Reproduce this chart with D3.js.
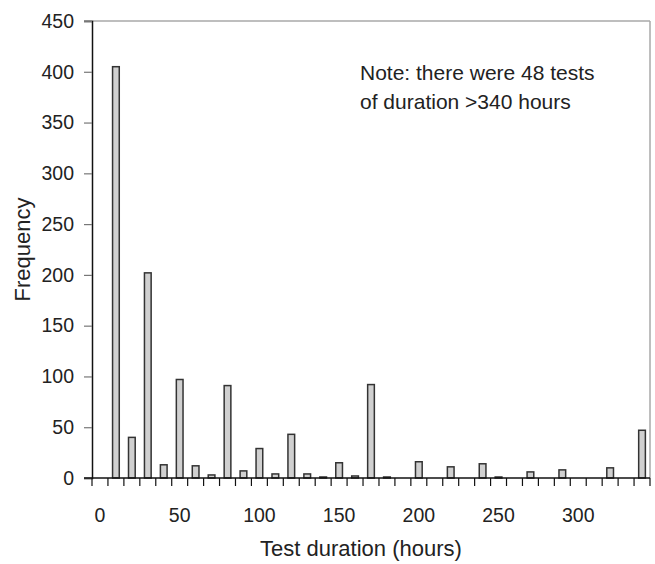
<!DOCTYPE html>
<html>
<head>
<meta charset="utf-8">
<script src="https://cdn.jsdelivr.net/npm/d3@7"></script>
<style>
  html, body { margin: 0; padding: 0; background: #fff; }
  svg { display: block; font-family: "Liberation Sans", Arial, sans-serif; }
</style>
</head>
<body>
<svg id="chart" width="655" height="564"></svg>
<script>
// Categories: test duration bins (hours)
const categories = [0,10,20,30,40,50,60,70,80,90,100,110,120,130,140,150,160,170,180,190,200,210,220,230,240,250,260,270,280,290,300,310,320,330,340];
// Frequency per bin
const frequency = [0,405,40,202,13,97,12,3,91,7,29,4,43,4,1,15,2,92,1,0,16,0,11,0,14,1,0,6,0,8,0,0,10,0,47];
const xTickLabels = [0,50,100,150,200,250,300];
const yTicks = [0,50,100,150,200,250,300,350,400,450];
const xTitle = "Test duration (hours)";
const yTitle = "Frequency";
const noteLines = ["Note: there were 48 tests", "of duration >340 hours"];

const svg = d3.select("#chart");
const margin = {left: 92, right: 5, top: 21, bottom: 86};
const W = 655, H = 564;
const x0 = margin.left, x1 = W - margin.right;
const y0 = H - margin.bottom, y1 = margin.top;

const x = d3.scaleBand().domain(categories).range([x0, x1]).paddingInner(0.58).paddingOuter(0.29);
const y = d3.scaleLinear().domain([0, 450]).range([y0, y1]);

// plot frame (gray top/right)
svg.append("line").attr("x1", x0 - 8).attr("x2", x1).attr("y1", y1).attr("y2", y1)
  .attr("stroke", "#a8a8a8").attr("stroke-width", 1.5);
svg.append("line").attr("x1", x1).attr("x2", x1).attr("y1", y1).attr("y2", y0)
  .attr("stroke", "#a8a8a8").attr("stroke-width", 1.5);

// y axis
const yAxis = d3.axisLeft(y).tickValues(yTicks).tickSize(8).tickPadding(10);
const gy = svg.append("g").attr("transform", `translate(${x0},0)`).call(yAxis);
gy.select(".domain").attr("stroke", "#111").attr("stroke-width", 1.5);
gy.selectAll(".tick line").attr("stroke", "#777").attr("stroke-width", 1.2);
gy.selectAll(".tick text").attr("font-size", 19.5).attr("fill", "#222")
  .attr("font-family", "Liberation Sans, Arial, sans-serif");

// bars
svg.append("g").selectAll("rect").data(categories.map((c, i) => ({c, v: frequency[i]})))
  .join("rect")
  .filter(d => d.v > 0)
  .attr("x", d => x(d.c))
  .attr("width", x.bandwidth())
  .attr("y", d => y(d.v))
  .attr("height", d => y(0) - y(d.v))
  .attr("fill", "#d0d0d0")
  .attr("stroke", "#333")
  .attr("stroke-width", 1.5);

// x axis
const step = x.step();
const boundaries = d3.range(categories.length + 1).map(k => x0 + k * step);
svg.append("line").attr("x1", x0 - 8).attr("x2", x1).attr("y1", y0).attr("y2", y0)
  .attr("stroke", "#111").attr("stroke-width", 1.5);
svg.append("g").selectAll("line").data(boundaries).join("line")
  .attr("x1", d => d).attr("x2", d => d).attr("y1", y0).attr("y2", y0 + 8)
  .attr("stroke", "#111").attr("stroke-width", 1.2);
svg.append("g").selectAll("text").data(xTickLabels).join("text")
  .attr("x", d => x(d) + x.bandwidth() / 2)
  .attr("y", 522)
  .attr("text-anchor", "middle")
  .attr("font-size", 19.5).attr("fill", "#222")
  .text(d => d);

// axis titles
svg.append("text").attr("x", 361).attr("y", 556).attr("text-anchor", "middle")
  .attr("font-size", 22).attr("fill", "#222").text(xTitle);
svg.append("text").attr("transform", `translate(30, ${(y0 + y1) / 2}) rotate(-90)`)
  .attr("text-anchor", "middle").attr("font-size", 22).attr("fill", "#222").text(yTitle);

// note
svg.append("g").selectAll("text").data(noteLines).join("text")
  .attr("x", 360).attr("y", (d, i) => 80 + i * 29)
  .attr("font-size", 21).attr("fill", "#222").text(d => d);
</script>
</body>
</html>
